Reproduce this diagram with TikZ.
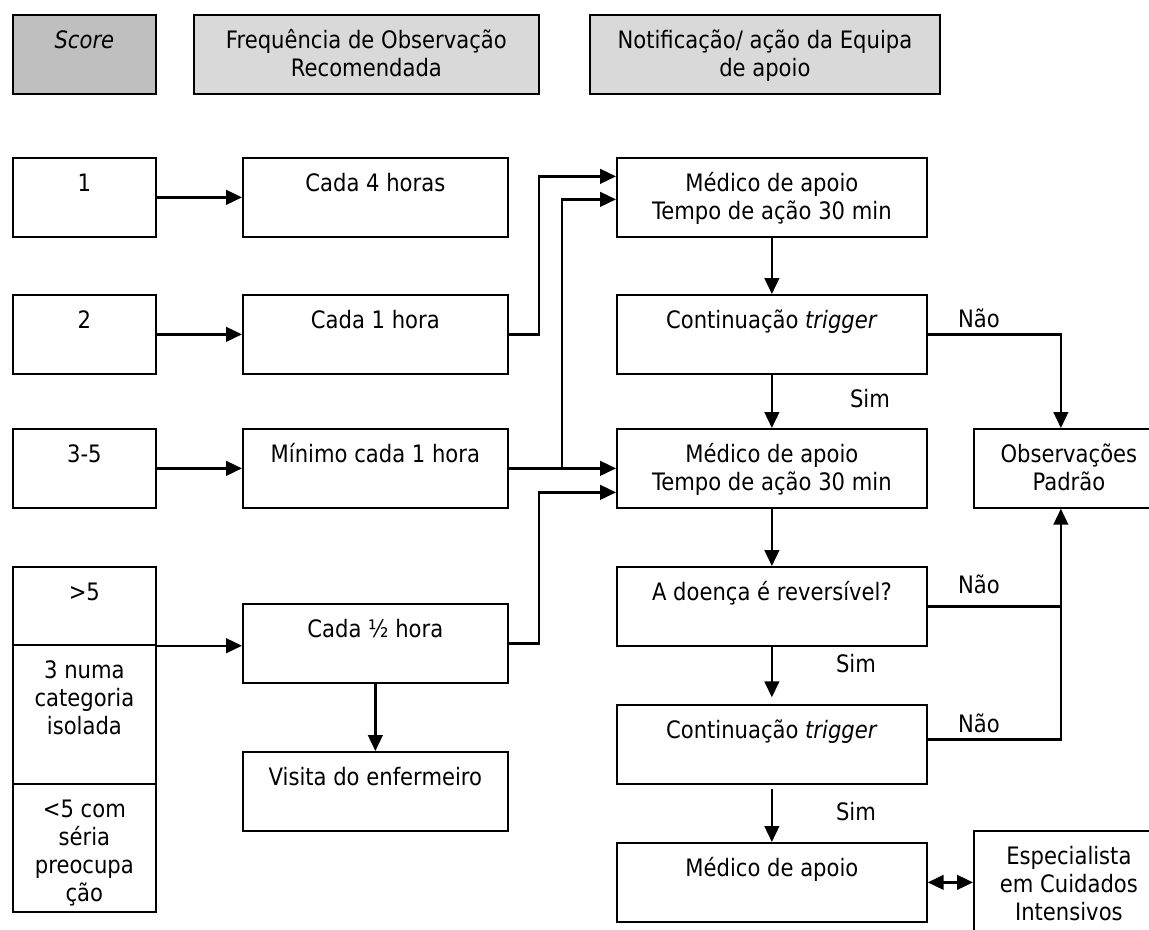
\documentclass[tikz,border=0pt]{standalone}
\usepackage{fontspec}
\setmainfont{DejaVu Sans}[FakeStretch=0.88]
\usetikzlibrary{arrows.meta,calc}

\newdimen\pxu
\pxu=0.75pt

\tikzset{
  kTip/.tip={Triangle[length=12pt,width=11pt]},
  cell/.style 2 args={draw=black,line width=1.3pt,inner sep=0pt,anchor=north west,
    execute at begin node={\begin{minipage}[c][#2\pxu][t]{#1\pxu}\centering\vspace*{10.5pt}\strut},
    execute at end node={\end{minipage}}},
  link/.style={line width=1.8pt,-kTip},
  plain/.style={line width=1.8pt},
  tag/.style={anchor=base,inner sep=0pt}
}

\begin{document}
\begin{tikzpicture}[x=0.75pt,y=-0.75pt,font=\fontsize{18}{21}\selectfont]
  \definecolor{kHead}{rgb}{0.85,0.85,0.85}
  \definecolor{kScore}{rgb}{0.75,0.75,0.75}

  % frame
  \useasboundingbox (0,0) rectangle (1149,929);
  \clip (0,0) rectangle (1149,929);

  % headers
  \node[cell={143}{79},fill=kScore] (hScore) at (12,14) {\textit{Score}};
  \node[cell={345}{79},fill=kHead] (hFreq) at (193,14) {Frequência de Observação\\Recomendada};
  \node[cell={350}{79},fill=kHead] (hNotif) at (589,14) {Notificação/ ação da Equipa\\de apoio};

  % score column
  \foreach \n/\y/\h/\t in {s1/157/79/1, s2/294/79/2, s3/428/79/3-5,
                           s4a/566/78/{>5},
                           s4b/644/139/{3 numa\\categoria\\isolada},
                           s4c/783/128/{<5 com\\séria\\preocupa\\ção}}
  {
    \node[cell={143}{\h}] (\n) at (12,\y) {\t};
  }

  % frequency column
  \foreach \n/\y/\t in {f1/157/{Cada 4 horas}, f2/294/{Cada 1 hora},
                        f3/428/{Mínimo cada 1 hora}, f4/603/{Cada ½ hora},
                        f5/751/{Visita do enfermeiro}}
  {
    \node[cell={265}{79}] (\n) at (242,\y) {\t};
  }

  % team column
  \foreach \n/\y/\t in {m1/157/{Médico de apoio\\Tempo de ação 30 min},
                        c1/294/{Continuação \textit{trigger}},
                        m2/428/{Médico de apoio\\Tempo de ação 30 min},
                        d1/566/{A doença é reversível?},
                        c2/704/{Continuação \textit{trigger}},
                        m3/842/{Médico de apoio}}
  {
    \node[cell={310}{79}] (\n) at (616,\y) {\t};
  }

  \node[cell={190}{79}] (obs) at (973,428) {Observações\\Padrão};
  \node[cell={190}{115}] (esp) at (973,830) {Especialista\\em Cuidados\\Intensivos};

  % score -> frequency
  \foreach \a/\b in {s1/f1, s2/f2, s3/f3}
  {
    \draw[link] (\a.east) -- (\b.west);
  }
  \draw[link] (s4a.south east) -- (s4a.south east -| f4.west);
  \draw[link] (f4.south) -- (f5.north);

  % frequency -> team
  \draw[link] (f2.east) -- ++(30,0) |- ($(m1.west)+(0,-21)$);
  \draw[link] (f3.east) -- (m2.west);
  \draw[link] ($(f3.east)+(53,0)$) |- ($(m1.west)+(0,2)$);
  \draw[link] (f4.east) -- ++(30,0) |- ($(m2.west)+(0,24)$);

  % team
  \draw[link] (m1.south) -- (c1.north);
  \draw[link] (c1.south) -- (m2.north);
  \draw[link] (m2.south) -- (d1.north);
  \draw[link,shorten >=5pt] (d1.south) -- (c2.north);
  \draw[link,shorten <=3pt] (c2.south) -- (m3.north);
  \draw[line width=1.8pt,kTip-kTip] (m3.east) -- (m3.east -| esp.west);

  %% back to standard observations
  \coordinate (obsTop) at ($(obs.north)+(-8,0)$);
  \coordinate (obsBot) at ($(obs.south)+(-8,0)$);
  \draw[link] (c1.east) -| (obsTop);
  \draw[plain] (d1.east) -- (d1.east -| obsBot);
  \draw[link] ($(c2.east)+(0,-5)$) -| (obsBot);

  % labels
  \node[tag] (sim1) at (870,407) {Sim};
  \node[tag] (sim2) at (856,672) {Sim};
  \node[tag] (sim3) at (856,820) {Sim};
  \node[tag] (nao1) at (979,327) {Não};
  \node[tag] (nao2) at (979,593) {Não};
  \node[tag] (nao3) at (979,732) {Não};
\end{tikzpicture}
\end{document}
